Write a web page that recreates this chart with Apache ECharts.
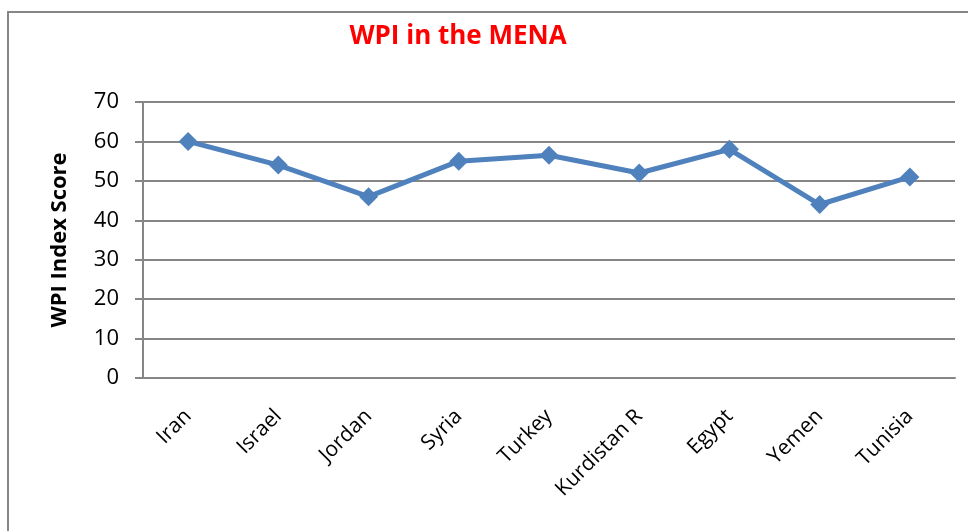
<!DOCTYPE html>
<html>
<head>
<meta charset="utf-8">
<script src="https://cdn.jsdelivr.net/npm/echarts@6/dist/echarts.min.js"></script>
<style>html,body{margin:0;padding:0;background:#fff}#c{width:968px;height:531px}</style>
</head>
<body>
<div id="c"></div>
<script>
const categories = ["Iran","Israel","Jordan","Syria","Turkey","Kurdistan R","Egypt","Yemen","Tunisia"];
const wpiValues = [60, 54, 46, 55, 56.5, 52, 58, 44, 51];
const yTicks = {min: 0, max: 70, interval: 10};
const titleText = "WPI in the MENA";
const yAxisName = "WPI Index Score";

const chart = echarts.init(document.getElementById('c'));
const FONT = "Open Sans";
chart.setOption({
  animation: false,
  backgroundColor: '#fff',
  title: {
    text: titleText,
    left: 453, top: 19, textAlign: 'center',
    textStyle: {color: '#FF0000', fontFamily: FONT, fontWeight: 'bold', fontSize: 26}
  },
  graphic: [{
    type: 'rect', silent: true,
    shape: {x: 8, y: 12, width: 980, height: 540},
    style: {fill: 'none', stroke: '#868686', lineWidth: 2}
  }],
  grid: {left: 143, right: 13, top: 102, bottom: 153},
  xAxis: {
    type: 'category',
    data: categories,
    boundaryGap: true,
    axisLine: {lineStyle: {color: '#868686', width: 2}},
    axisTick: {show: false},
    axisLabel: {rotate: 45, margin: 35, color: '#000', fontFamily: FONT, fontSize: 21}
  },
  yAxis: {
    type: 'value',
    min: yTicks.min, max: yTicks.max, interval: yTicks.interval,
    name: yAxisName,
    nameLocation: 'middle',
    nameRotate: 90,
    nameGap: 72,
    nameTextStyle: {color: '#000', fontFamily: FONT, fontWeight: 'bold', fontSize: 22},
    axisLine: {show: true, lineStyle: {color: '#868686', width: 2}},
    axisTick: {show: true, length: 8, lineStyle: {color: '#868686', width: 2}},
    splitLine: {lineStyle: {color: '#868686', width: 2}},
    axisLabel: {margin: 24, color: '#000', fontFamily: FONT, fontSize: 22}
  },
  series: [{
    type: 'line',
    data: wpiValues,
    symbol: 'diamond',
    symbolSize: 19,
    lineStyle: {color: '#4F81BD', width: 5},
    itemStyle: {color: '#4F81BD'}
  }]
});
</script>
</body>
</html>
